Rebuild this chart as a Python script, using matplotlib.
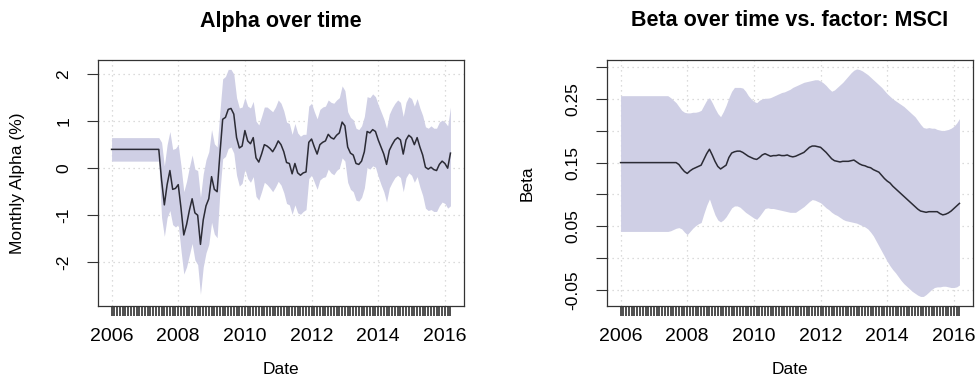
import numpy as np
import pandas as pd
import matplotlib
matplotlib.use("Agg")
import matplotlib.pyplot as plt
from matplotlib.ticker import FixedLocator, NullFormatter

plt.rcParams['font.family'] = ['Liberation Sans', 'DejaVu Sans']

# ---------------- data ----------------
dates = pd.date_range('2006-01-01', '2016-03-01', freq='MS')

alpha = [0.40] * 18 + [
    -0.25, -0.78, -0.35, -0.05, -0.45, -0.43, -0.35, -0.85, -1.42, -1.20,
    -0.90, -0.65, -0.95, -1.00, -1.62, -1.10, -0.80, -0.65, -0.18, -0.45,
    -0.50, 0.30, 1.04, 1.08, 1.25, 1.27, 1.15, 0.65, 0.43, 0.47,
    0.80, 0.58, 0.52, 0.65, 0.22, 0.13, 0.30, 0.50, 0.47, 0.42,
    0.35, 0.45, 0.58, 0.50, 0.35, 0.12, 0.10, -0.12, 0.10, -0.10,
    -0.15, -0.10, -0.08, 0.55, 0.62, 0.45, 0.30, 0.50, 0.55, 0.58,
    0.72, 0.65, 0.62, 0.70, 0.75, 0.98, 0.90, 0.45, 0.32, 0.28,
    0.10, 0.08, 0.15, 0.35, 0.78, 0.75, 0.82, 0.78, 0.60, 0.45,
    0.30, 0.08, 0.38, 0.50, 0.60, 0.65, 0.60, 0.30, 0.60, 0.70,
    0.65, 0.50, 0.65, 0.45, 0.28, 0.02, -0.02, 0.02, -0.03, -0.05,
    0.08, 0.15, 0.10, 0.00, 0.32]

alpha_upper = [0.65] * 18 + [
    0.55, 0.05, 0.50, 0.78, 0.40, 0.42, 0.50, 0.05, -0.50, -0.28,
    0.02, 0.28, -0.02, -0.05, -0.62, -0.12, 0.18, 0.35, 0.82, 0.52,
    0.45, 1.20, 1.90, 1.95, 2.10, 2.10, 2.00, 1.50, 1.28, 1.30,
    1.50, 1.32, 1.28, 1.42, 1.00, 0.92, 1.10, 1.30, 1.30, 1.25,
    1.20, 1.30, 1.45, 1.38, 1.22, 0.98, 0.95, 0.72, 0.95, 0.75,
    0.68, 0.72, 0.72, 1.32, 1.38, 1.20, 1.05, 1.25, 1.30, 1.32,
    1.45, 1.40, 1.38, 1.45, 1.50, 1.75, 1.65, 1.20, 1.08, 1.03,
    0.85, 0.82, 0.90, 1.10, 1.52, 1.50, 1.58, 1.52, 1.35, 1.20,
    1.05, 0.85, 1.15, 1.28, 1.38, 1.45, 1.40, 1.10, 1.40, 1.52,
    1.48, 1.32, 1.48, 1.28, 1.12, 0.88, 0.85, 0.90, 0.85, 0.85,
    0.98, 1.02, 0.98, 0.90, 1.30]

alpha_lower = [0.15] * 18 + [
    -1.05, -1.45, -1.05, -0.90, -1.20, -1.25, -1.20, -1.75, -2.25, -2.10,
    -1.85, -1.60, -1.95, -2.05, -2.68, -2.10, -1.80, -1.62, -1.15, -1.40,
    -1.48, -0.50, 0.20, 0.25, 0.42, 0.45, 0.32, -0.15, -0.38, -0.32,
    -0.02, -0.22, -0.30, -0.18, -0.60, -0.68, -0.50, -0.30, -0.35, -0.42,
    -0.50, -0.40, -0.28, -0.36, -0.52, -0.75, -0.78, -0.98, -0.78, -0.95,
    -0.98, -0.92, -0.88, -0.22, -0.15, -0.30, -0.45, -0.25, -0.20, -0.18,
    -0.02, -0.10, -0.14, -0.05, 0.00, 0.22, 0.15, -0.30, -0.45, -0.50,
    -0.68, -0.70, -0.62, -0.42, 0.02, -0.02, 0.05, 0.02, -0.18, -0.35,
    -0.50, -0.72, -0.42, -0.30, -0.20, -0.15, -0.20, -0.50, -0.20, -0.10,
    -0.15, -0.30, -0.18, -0.40, -0.58, -0.85, -0.90, -0.88, -0.92, -0.92,
    -0.80, -0.72, -0.75, -0.85, -0.80]

beta = [0.150] * 21 + [
    0.147, 0.141, 0.136, 0.133, 0.137, 0.140, 0.142, 0.144, 0.146, 0.155,
    0.164, 0.171, 0.162, 0.152, 0.144, 0.140, 0.143, 0.146, 0.158, 0.165,
    0.167, 0.168, 0.168, 0.166, 0.163, 0.160, 0.158, 0.156, 0.155, 0.158,
    0.162, 0.164, 0.162, 0.160, 0.161, 0.161, 0.162, 0.161, 0.161, 0.162,
    0.160, 0.159, 0.160, 0.162, 0.164, 0.166, 0.170, 0.174, 0.176, 0.176,
    0.175, 0.174, 0.170, 0.166, 0.161, 0.156, 0.153, 0.152, 0.151, 0.152,
    0.152, 0.152, 0.153, 0.154, 0.151, 0.148, 0.146, 0.145, 0.143, 0.142,
    0.139, 0.137, 0.135, 0.130, 0.125, 0.121, 0.118, 0.113, 0.109, 0.105,
    0.101, 0.097, 0.093, 0.089, 0.085, 0.081, 0.077, 0.074, 0.073, 0.072,
    0.073, 0.073, 0.073, 0.073, 0.070, 0.068, 0.069, 0.071, 0.074, 0.078,
    0.082, 0.086]

beta_upper = [0.255] * 18 + [
    0.252, 0.248, 0.244, 0.238, 0.232, 0.229, 0.228, 0.228, 0.229, 0.229,
    0.230, 0.232, 0.240, 0.248, 0.252, 0.244, 0.235, 0.227, 0.222, 0.230,
    0.240, 0.252, 0.262, 0.268, 0.268, 0.268, 0.267, 0.262, 0.255, 0.250,
    0.246, 0.244, 0.248, 0.250, 0.251, 0.251, 0.252, 0.254, 0.256, 0.258,
    0.260, 0.261, 0.263, 0.265, 0.268, 0.270, 0.272, 0.274, 0.276, 0.277,
    0.278, 0.279, 0.280, 0.280, 0.278, 0.275, 0.271, 0.266, 0.262, 0.264,
    0.268, 0.272, 0.276, 0.281, 0.286, 0.291, 0.295, 0.297, 0.296, 0.294,
    0.291, 0.288, 0.284, 0.280, 0.276, 0.272, 0.268, 0.263, 0.258, 0.254,
    0.250, 0.247, 0.244, 0.241, 0.238, 0.234, 0.230, 0.226, 0.222, 0.216,
    0.210, 0.205, 0.204, 0.205, 0.204, 0.204, 0.202, 0.201, 0.200, 0.201,
    0.202, 0.204, 0.207, 0.212, 0.219]

beta_lower = [0.042] * 18 + [
    0.043, 0.045, 0.047, 0.048, 0.046, 0.041, 0.037, 0.042, 0.047, 0.051,
    0.054, 0.056, 0.070, 0.083, 0.093, 0.080, 0.068, 0.060, 0.057, 0.060,
    0.065, 0.072, 0.079, 0.082, 0.082, 0.080, 0.076, 0.072, 0.069, 0.066,
    0.063, 0.061, 0.066, 0.072, 0.078, 0.079, 0.078, 0.078, 0.077, 0.076,
    0.075, 0.074, 0.073, 0.072, 0.072, 0.072, 0.075, 0.078, 0.081, 0.085,
    0.089, 0.092, 0.091, 0.089, 0.087, 0.083, 0.079, 0.076, 0.072, 0.069,
    0.067, 0.064, 0.061, 0.059, 0.058, 0.057, 0.056, 0.055, 0.053, 0.051,
    0.049, 0.046, 0.041, 0.035, 0.027, 0.019, 0.011, 0.003, -0.005, -0.012,
    -0.018, -0.023, -0.029, -0.035, -0.040, -0.044, -0.048, -0.052, -0.055, -0.058,
    -0.060, -0.060, -0.057, -0.053, -0.049, -0.046, -0.045, -0.045, -0.044, -0.044,
    -0.045, -0.046, -0.046, -0.045, -0.042]

year_ticks = [2006, 2008, 2010, 2012, 2014, 2016]
alpha_yticks = [-2, -1, 0, 1, 2]
beta_yticks = [-0.05, 0.00, 0.05, 0.10, 0.15, 0.20, 0.25, 0.30]
beta_ylabels = ['-0.05', '', '0.05', '', '0.15', '', '0.25', '']

# ---------------- drawing ----------------
x = dates.year + (dates.month - 1) / 12.0

W, H = 977, 382
fig = plt.figure(figsize=(W / 100, H / 100), dpi=100)

band_col = '#cfcfe5'
line_col = '#2b2b35'
grid_col = '#d0d0d0'

def px_axes(l, t, r, b):
    return fig.add_axes([l / W, 1 - b / H, (r - l) / W, (b - t) / H])

axL = px_axes(98, 60, 464, 306)
axR = px_axes(607, 60, 973, 306)

def style(ax, ylim, yticks, ylabels):
    ax.set_xlim(2005.593, 2016.573)
    ax.set_ylim(*ylim)
    ax.xaxis.set_major_locator(FixedLocator(year_ticks))
    ax.set_xticklabels([str(y) for y in year_ticks])
    ax.xaxis.set_minor_locator(FixedLocator(list(x)))
    ax.xaxis.set_minor_formatter(NullFormatter())
    ax.tick_params(axis='x', which='both', direction='out', length=7.5,
                   width=1.2, color='#303030', labelsize=14, pad=8)
    ax.set_yticks(yticks)
    ax.set_yticklabels(ylabels, rotation=90, va='center')
    ax.tick_params(axis='y', direction='out', length=8, width=0.8,
                   color='#333333', labelsize=12.5, pad=11)
    for s in ax.spines.values():
        s.set_linewidth(0.9)
        s.set_color('#333333')
    for yv in yticks:
        ax.axhline(yv, color=grid_col, lw=0.9, ls=(0, (1, 3)), zorder=0)
    for xv in year_ticks:
        ax.axvline(xv, color=grid_col, lw=0.9, ls=(0, (1, 3)), zorder=0)

axL.fill_between(x, alpha_lower, alpha_upper, color=band_col, lw=0, zorder=1)
axL.plot(x, alpha, color=line_col, lw=1.1, zorder=2)
style(axL, (-2.93, 2.30), alpha_yticks, [str(v) for v in alpha_yticks])

axR.fill_between(x, beta_lower, beta_upper, color=band_col, lw=0, zorder=1)
axR.plot(x, beta, color=line_col, lw=1.1, zorder=2)
style(axR, (-0.075, 0.311), beta_yticks, beta_ylabels)

def ftext(px, py, s, **kw):
    fig.text(px / W, 1 - py / H, s, ha='center', va='center', **kw)

ftext(281, 21, 'Alpha over time', fontsize=15.5, fontweight='bold')
ftext(790, 21, 'Beta over time vs. factor: MSCI', fontsize=15.5, fontweight='bold')
ftext(281, 370, 'Date', fontsize=12.5)
ftext(790, 370, 'Date', fontsize=12.5)
ftext(18, 183, 'Monthly Alpha (%)', fontsize=12.5, rotation=90)
ftext(527, 183, 'Beta', fontsize=12.5, rotation=90)

fig.savefig('out.png', dpi=100)
